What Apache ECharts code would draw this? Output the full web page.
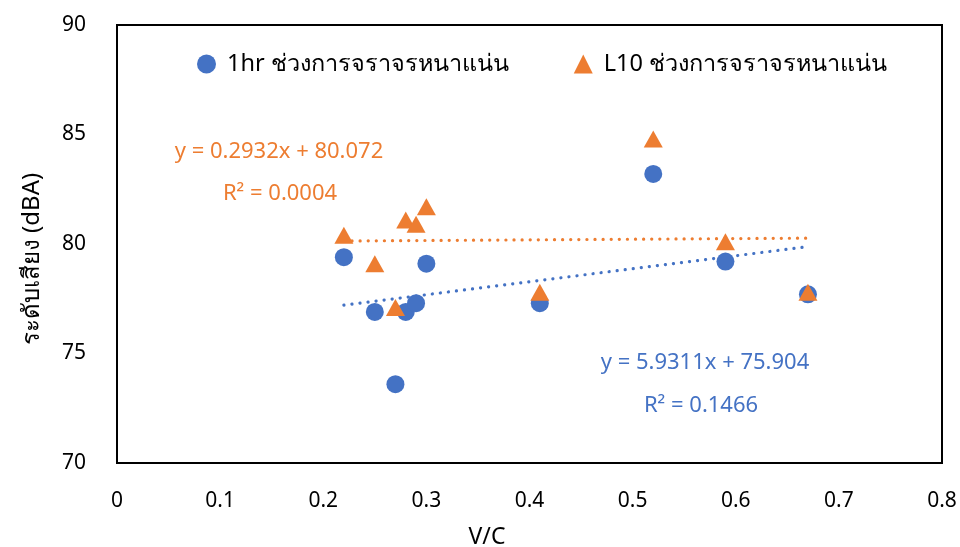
<!DOCTYPE html>
<html>
<head>
<meta charset="utf-8">
<script src="https://cdn.jsdelivr.net/npm/echarts@6/dist/echarts.min.js"></script>
<style>
  html, body { margin: 0; padding: 0; background: #fff; }
  #chart { width: 960px; height: 547px; }
</style>
</head>
<body>
<div id="chart"></div>
<script>
// V/C ratio of each measurement
const vcRatio = [0.22, 0.25, 0.27, 0.28, 0.29, 0.30, 0.41, 0.52, 0.59, 0.67];
// Hourly level (1hr) during heavy traffic, dBA
const levelHour = [79.4, 76.9, 73.6, 76.9, 77.3, 79.1, 77.3, 83.2, 79.2, 77.7];
// L10 level during heavy traffic, dBA
const levelL10 = [80.4, 79.1, 77.1, 81.1, 80.9, 81.7, 77.8, 84.8, 80.1, 77.8];

const seriesNames = ['1hr ช่วงการจราจรหนาแน่น', 'L10 ช่วงการจราจรหนาแน่น'];
const seriesColors = ['#4472C4', '#ED7D31'];

// Linear trendline coefficients (slope, intercept, R²)
const trendSlope = [5.9311, 0.2932];
const trendIntercept = [75.904, 80.072];
const trendR2 = ['0.1466', '0.0004'];

const xTicks = { min: 0, max: 0.8, interval: 0.1 };
const yTicks = { min: 70, max: 90, interval: 5 };

const FONT = '"Noto Sans", "DejaVu Sans", sans-serif';

function points(ys) {
  return vcRatio.map((x, i) => [x, ys[i]]);
}
function trendPoints(k) {
  const x0 = Math.min(...vcRatio), x1 = Math.max(...vcRatio);
  return [[x0, trendSlope[k] * x0 + trendIntercept[k]],
          [x1, trendSlope[k] * x1 + trendIntercept[k]]];
}
function trendLine(k) {
  return {
    type: 'line',
    data: trendPoints(k),
    symbol: 'none',
    silent: true,
    lineStyle: { color: seriesColors[k], width: 3.2, type: [0.1, 8], cap: 'round' },
    z: 1
  };
}

const chart = echarts.init(document.getElementById('chart'), null, { renderer: 'canvas' });

chart.setOption({
  animation: false,
  backgroundColor: '#ffffff',
  grid: {
    left: 117, right: 18, top: 25, bottom: 84,
    show: true, borderColor: '#000', borderWidth: 2, backgroundColor: 'transparent'
  },
  legend: {
    data: seriesNames,
    left: 192, top: 47,
    itemWidth: 19, itemHeight: 19, itemGap: 65,
    textStyle: { fontFamily: FONT, fontSize: 23.5, color: '#000', padding: [0, 0, 0, 6] }
  },
  xAxis: {
    type: 'value',
    min: xTicks.min, max: xTicks.max, interval: xTicks.interval,
    axisLine: { show: false }, axisTick: { show: false }, splitLine: { show: false },
    axisLabel: {
      fontFamily: FONT, fontSize: 21, color: '#000', margin: 28,
      formatter: v => (Math.round(v * 10) / 10).toString()
    }
  },
  yAxis: {
    type: 'value',
    min: yTicks.min, max: yTicks.max, interval: yTicks.interval,
    axisLine: { show: false }, axisTick: { show: false }, splitLine: { show: false },
    axisLabel: { fontFamily: FONT, fontSize: 21, color: '#000', margin: 31, padding: [0, 0, 5, 0] }
  },
  graphic: [
    {
      type: 'text', x: 487, y: 537,
      style: { text: 'V/C', fontFamily: FONT, fontSize: 23, fill: '#000', align: 'center', verticalAlign: 'middle' }
    },
    {
      type: 'text', x: 32, y: 259, rotation: Math.PI / 2,
      style: { text: 'ระดับเสียง (dBA)', fontFamily: FONT, fontSize: 24, fill: '#000', align: 'center', verticalAlign: 'middle' }
    },
    {
      type: 'text', x: 705, y: 363,
      style: { text: 'y = ' + trendSlope[0] + 'x + ' + trendIntercept[0], fontFamily: FONT, fontSize: 22, fill: seriesColors[0], align: 'center', verticalAlign: 'middle' }
    },
    {
      type: 'text', x: 701, y: 406,
      style: { text: 'R² = ' + trendR2[0], fontFamily: FONT, fontSize: 22, fill: seriesColors[0], align: 'center', verticalAlign: 'middle' }
    },
    {
      type: 'text', x: 279, y: 152,
      style: { text: 'y = ' + trendSlope[1] + 'x + ' + trendIntercept[1], fontFamily: FONT, fontSize: 22, fill: seriesColors[1], align: 'center', verticalAlign: 'middle' }
    },
    {
      type: 'text', x: 280, y: 194,
      style: { text: 'R² = ' + trendR2[1], fontFamily: FONT, fontSize: 22, fill: seriesColors[1], align: 'center', verticalAlign: 'middle' }
    }
  ],
  series: [
    trendLine(0),
    trendLine(1),
    {
      name: seriesNames[0], type: 'scatter', data: points(levelHour),
      symbol: 'circle', symbolSize: 18,
      itemStyle: { color: seriesColors[0], opacity: 1 }, z: 3
    },
    {
      name: seriesNames[1], type: 'scatter', data: points(levelL10),
      symbol: 'triangle', symbolSize: [19, 17],
      itemStyle: { color: seriesColors[1], opacity: 1 }, z: 4
    }
  ]
});
</script>
</body>
</html>
